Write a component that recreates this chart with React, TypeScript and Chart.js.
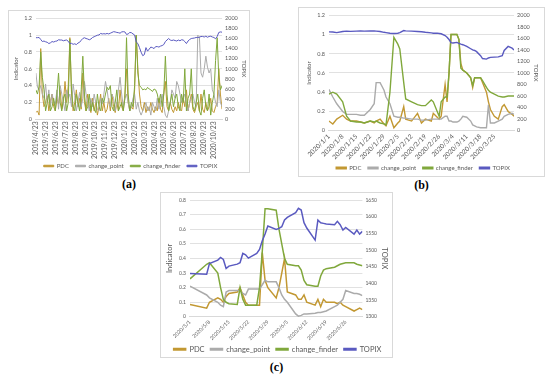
import React, { useEffect, useRef } from 'react';
import Chart from 'chart.js/auto';

const SERIES = ['PDC', 'change_point', 'change_finder', 'TOPIX'];
const COLORS = ['#C29832', '#ABABAB', '#80A83C', '#5A5AC0'];
const FONT = 'Lato, "Open Sans", sans-serif';

// ---------- Panel (a): days since 2019/4/23 ----------
const tickDaysA = [0, 30, 61, 91, 122, 153, 183, 214, 244, 275, 306, 335, 366, 396, 427, 457, 488, 519, 549];
const tickLabelsA = ['2019/4/23', '2019/5/23', '2019/6/23', '2019/7/23', '2019/8/23', '2019/9/23', '2019/10/23', '2019/11/23', '2019/12/23', '2020/1/23', '2020/2/23', '2020/3/23', '2020/4/23', '2020/5/23', '2020/6/23', '2020/7/23', '2020/8/23', '2020/9/23', '2020/10/23'];
const daysA = [0, 5, 10, 15, 20, 25, 30, 35, 40, 45, 50, 55, 60, 65, 70, 75, 80, 85, 90, 95, 100, 105, 110, 115, 120, 125, 130, 135, 140, 145, 150, 155, 160, 165, 170, 175, 180, 185, 190, 195, 200, 205, 210, 215, 220, 225, 230, 235, 240, 245, 250, 255, 260, 265, 270, 275, 280, 285, 290, 295, 300, 305, 310, 315, 320, 325, 330, 335, 340, 345, 350, 355, 360, 365, 370, 375, 380, 385, 390, 395, 400, 405, 410, 415, 420, 425, 430, 435, 440, 445, 450, 455, 460, 465, 470, 475, 480, 485, 490, 495, 500, 505, 510, 515, 520, 525, 530, 535, 540, 545, 550, 555, 560, 565, 570, 575];
const pdcA = [0.08, 0.1, 0.05, 0.84, 0.3, 0.15, 0.2, 0.28, 0.1, 0.22, 0.3, 0.15, 0.1, 0.25, 0.18, 0.35, 0.12, 0.2, 0.45, 0.2, 0.4, 0.97, 0.3, 0.1, 0.2, 0.35, 0.15, 0.25, 0.12, 0.55, 0.2, 0.1, 0.3, 0.15, 0.08, 0.25, 0.1, 0.2, 0.05, 0.15, 0.3, 0.1, 0.2, 0.08, 0.12, 0.25, 0.1, 0.3, 0.15, 0.08, 0.2, 0.1, 0.35, 0.15, 0.1, 0.3, 0.6, 0.2, 0.1, 0.15, 0.12, 0.35, 1.0, 0.6, 0.3, 0.15, 0.1, 0.2, 0.08, 0.15, 0.1, 0.2, 0.12, 0.08, 0.15, 0.1, 0.25, 0.12, 0.08, 0.3, 0.45, 0.15, 0.1, 0.2, 0.12, 0.08, 0.15, 0.1, 0.2, 0.12, 0.1, 0.25, 0.15, 0.35, 0.1, 0.2, 0.3, 0.12, 0.08, 0.15, 0.2, 0.1, 0.3, 0.12, 0.08, 0.2, 0.1, 0.15, 0.25, 0.1, 0.08, 0.15, 0.2, 0.6, 0.3, 0.12];
const changePointA = [0.55, 0.38, 0.35, 0.4, 0.3, 0.25, 0.42, 0.2, 0.35, 0.15, 0.3, 0.22, 0.18, 0.35, 0.12, 0.4, 0.3, 0.2, 0.1, 0.35, 0.25, 0.3, 0.15, 0.42, 0.28, 0.1, 0.2, 0.32, 0.15, 0.25, 0.45, 0.3, 0.2, 0.1, 0.25, 0.15, 0.3, 0.2, 0.12, 0.1, 0.25, 0.18, 0.3, 0.45, 0.35, 0.2, 0.15, 0.3, 0.25, 0.1, 0.2, 0.35, 0.5, 0.3, 0.15, 0.25, 0.3, 0.2, 0.1, 0.15, 0.25, 0.3, 0.12, 0.2, 0.1, 0.05, 0.1, 0.15, 0.2, 0.1, 0.15, 0.05, 0.2, 0.15, 0.1, 0.25, 0.12, 0.2, 0.3, 0.15, 0.05, 0.02, 0.1, 0.2, 0.35, 0.3, 0.25, 0.45, 0.4, 0.3, 0.2, 0.25, 0.3, 0.15, 0.1, 0.2, 0.25, 0.3, 0.2, 0.15, 1.0, 0.98, 0.55, 0.5, 0.6, 0.75, 0.62, 0.55, 0.6, 0.35, 0.3, 0.2, 0.15, 0.35, 0.2, 0.15];
const changeFinderA = [0.35, 0.3, 0.4, 0.8, 0.5, 0.35, 0.1, 0.2, 0.3, 0.1, 0.15, 0.25, 0.1, 0.3, 0.55, 0.2, 0.1, 0.25, 0.3, 0.1, 0.2, 0.95, 0.35, 0.15, 0.1, 0.3, 0.2, 0.1, 0.35, 0.75, 0.3, 0.1, 0.15, 0.3, 0.1, 0.2, 0.12, 0.08, 0.3, 0.15, 0.1, 0.25, 0.2, 0.3, 0.38, 0.35, 0.4, 0.15, 0.1, 0.2, 0.35, 0.1, 0.15, 0.2, 0.1, 0.25, 0.97, 0.3, 0.1, 0.2, 0.15, 0.4, 1.0, 0.55, 0.4, 0.38, 0.35, 0.36, 0.35, 0.38, 0.36, 0.35, 0.33, 0.36, 0.35, 0.3, 0.2, 0.3, 0.15, 0.3, 0.75, 0.3, 0.1, 0.2, 0.3, 0.15, 0.25, 0.3, 0.15, 0.1, 0.3, 0.2, 0.6, 0.1, 0.25, 0.3, 0.6, 0.15, 0.1, 0.2, 0.3, 0.1, 0.05, 0.25, 0.35, 0.15, 0.1, 0.3, 0.05, 0.2, 0.3, 0.7, 0.97, 0.5, 0.35, 0.4];
const topixA = [1615, 1617, 1620, 1580, 1540, 1550, 1535, 1525, 1500, 1515, 1540, 1530, 1545, 1550, 1575, 1570, 1570, 1555, 1565, 1570, 1545, 1500, 1505, 1485, 1495, 1480, 1510, 1525, 1565, 1600, 1615, 1600, 1590, 1575, 1590, 1620, 1635, 1650, 1665, 1670, 1700, 1690, 1695, 1690, 1700, 1690, 1705, 1720, 1735, 1730, 1720, 1715, 1705, 1730, 1735, 1730, 1680, 1690, 1720, 1715, 1690, 1670, 1530, 1500, 1420, 1330, 1260, 1280, 1420, 1350, 1390, 1430, 1420, 1400, 1440, 1440, 1430, 1450, 1460, 1480, 1540, 1570, 1600, 1570, 1560, 1570, 1560, 1550, 1570, 1555, 1575, 1570, 1540, 1500, 1550, 1580, 1600, 1605, 1610, 1620, 1620, 1625, 1640, 1640, 1630, 1645, 1625, 1640, 1645, 1630, 1620, 1595, 1640, 1720, 1730, 1725];

// ---------- Panel (b): days since 2020/1/1 ----------
const tickDaysB = [0, 7, 14, 21, 28, 35, 42, 49, 56, 63, 70, 77, 84];
const tickLabelsB = ['2020/1/1', '2020/1/8', '2020/1/15', '2020/1/22', '2020/1/29', '2020/2/5', '2020/2/12', '2020/2/19', '2020/2/26', '2020/3/4', '2020/3/11', '2020/3/18', '2020/3/25'];
const daysB = [0, 2, 4, 7, 9, 11, 14, 16, 18, 21, 23, 24, 26, 28, 29, 31, 33, 35, 36, 38, 39, 42, 45, 47, 49, 52, 53, 55, 56, 57, 59, 60, 61, 62, 63, 65, 66, 67, 68, 70, 72, 73, 74, 75, 77, 78, 80, 81, 82, 84, 86, 88, 89, 91, 93, 94];
const pdcB = [0.1, 0.07, 0.12, 0.16, 0.12, 0.1, 0.1, 0.09, 0.08, 0.1, 0.08, 0.1, 0.12, 0.07, 0.05, 0.15, 0.03, 0.08, 0.1, 0.25, 0.12, 0.1, 0.18, 0.08, 0.12, 0.1, 0.18, 0.14, 0.12, 0.15, 0.48, 0.3, 0.6, 1.0, 1.0, 1.0, 0.95, 0.7, 0.63, 0.6, 0.55, 0.45, 0.55, 0.55, 0.55, 0.5, 0.4, 0.3, 0.22, 0.15, 0.12, 0.25, 0.27, 0.2, 0.17, 0.15];
const changePointB = [0.43, 0.35, 0.28, 0.2, 0.17, 0.17, 0.17, 0.16, 0.16, 0.22, 0.28, 0.5, 0.5, 0.42, 0.35, 0.28, 0.15, 0.14, 0.14, 0.13, 0.13, 0.12, 0.12, 0.11, 0.11, 0.12, 0.12, 0.12, 0.12, 0.12, 0.15, 0.15, 0.1, 0.1, 0.09, 0.09, 0.1, 0.12, 0.15, 0.14, 0.1, 0.06, 0.05, 0.04, 0.03, 0.03, 0.03, 0.27, 0.08, 0.08, 0.1, 0.12, 0.15, 0.17, 0.18, 0.17];
const changeFinderB = [0.38, 0.4, 0.38, 0.3, 0.15, 0.1, 0.09, 0.09, 0.08, 0.1, 0.09, 0.1, 0.08, 0.07, 0.06, 0.4, 0.97, 0.9, 0.85, 0.5, 0.33, 0.3, 0.27, 0.26, 0.26, 0.32, 0.3, 0.2, 0.15, 0.3, 0.35, 0.35, 0.6, 1.0, 1.0, 1.0, 0.95, 0.65, 0.63, 0.6, 0.55, 0.47, 0.55, 0.55, 0.55, 0.52, 0.45, 0.42, 0.4, 0.38, 0.36, 0.35, 0.35, 0.36, 0.36, 0.36];
const topixB = [1713, 1710, 1700, 1720, 1725, 1722, 1725, 1728, 1725, 1730, 1728, 1725, 1720, 1705, 1700, 1690, 1685, 1690, 1700, 1735, 1730, 1725, 1720, 1715, 1705, 1695, 1690, 1690, 1685, 1680, 1650, 1620, 1580, 1525, 1520, 1530, 1515, 1500, 1490, 1460, 1420, 1400, 1390, 1370, 1300, 1250, 1240, 1260, 1270, 1275, 1280, 1300, 1390, 1460, 1430, 1400];

// ---------- Panel (c): days since 2020/5/1 ----------
const tickDaysC = [0, 7, 14, 21, 28, 35, 42, 49, 56];
const tickLabelsC = ['2020/5/1', '2020/5/8', '2020/5/15', '2020/5/22', '2020/5/29', '2020/6/5', '2020/6/12', '2020/6/19', '2020/6/26'];
const daysC = [0, 6, 7, 10, 11, 12, 13, 14, 17, 18, 19, 20, 21, 24, 25, 26, 27, 28, 31, 32, 33, 34, 35, 38, 39, 40, 41, 42, 45, 46, 47, 48, 49, 52, 53, 54, 55, 56, 59, 60, 61, 62];
const pdcC = [0.085, 0.06, 0.1, 0.13, 0.12, 0.1, 0.14, 0.16, 0.17, 0.2, 0.15, 0.1, 0.08, 0.08, 0.08, 0.44, 0.25, 0.2, 0.13, 0.2, 0.3, 0.4, 0.17, 0.15, 0.12, 0.12, 0.15, 0.1, 0.08, 0.12, 0.07, 0.12, 0.1, 0.1, 0.09, 0.1, 0.08, 0.07, 0.04, 0.05, 0.06, 0.05];
const changePointC = [0.21, 0.15, 0.13, 0.1, 0.08, 0.07, 0.17, 0.18, 0.18, 0.18, 0.16, 0.15, 0.19, 0.19, 0.19, 0.22, 0.25, 0.24, 0.24, 0.2, 0.15, 0.12, 0.1, 0.02, 0.005, 0.01, 0.02, 0.02, 0.025, 0.03, 0.03, 0.035, 0.04, 0.07, 0.08, 0.1, 0.12, 0.18, 0.16, 0.16, 0.155, 0.145];
const changeFinderC = [0.26, 0.36, 0.37, 0.3, 0.2, 0.12, 0.1, 0.09, 0.085, 0.2, 0.12, 0.08, 0.08, 0.08, 0.2, 0.45, 0.74, 0.74, 0.73, 0.6, 0.5, 0.4, 0.36, 0.35, 0.35, 0.32, 0.25, 0.22, 0.21, 0.21, 0.28, 0.32, 0.33, 0.34, 0.35, 0.36, 0.365, 0.37, 0.37, 0.36, 0.355, 0.35];
const topixC = [1430, 1428, 1460, 1470, 1478, 1472, 1445, 1452, 1458, 1462, 1490, 1486, 1476, 1490, 1502, 1528, 1548, 1572, 1562, 1565, 1570, 1590, 1598, 1612, 1625, 1620, 1582, 1566, 1530, 1590, 1582, 1580, 1578, 1576, 1586, 1576, 1560, 1568, 1548, 1560, 1548, 1556];

type Spec = {
  left: number; top: number; width: number; height: number;
  days: number[]; series: number[][];
  xMax: number; xTicks: number[]; xLabels: string[]; rotation: number;
  yMax: number; yStep: number; y1Min: number; y1Max: number; y1Step: number;
  tickFont: number; xTickFont: number; titleFont: number; legendFont: number; lineWidth: number; legendBox: number; legendGap: string;
  padding: { left: number; right: number; top: number; bottom: number };
  caption: string; captionTop: number;
};

const TXT = '#595959';
const GRID = '#D9D9D9';

function buildConfig(s: Spec): any {
  const datasets = s.series.map((vals, k) => ({
    label: SERIES[k],
    data: vals.map((v, i) => ({ x: s.days[i], y: v })),
    borderColor: COLORS[k],
    backgroundColor: COLORS[k],
    borderWidth: s.lineWidth,
    pointRadius: 0,
    tension: 0,
    yAxisID: k === 3 ? 'y1' : 'y',
    order: 4 - k,
  }));
  const tf = { family: FONT, size: s.tickFont };
  const xf = { family: FONT, size: s.xTickFont };
  const ttl = { family: FONT, size: s.titleFont };
  const defaultLabels = (Chart as any).defaults.plugins.legend.labels.generateLabels;
  return {
    type: 'line',
    data: { datasets },
    options: {
      animation: false,
      responsive: false,
      devicePixelRatio: 1,
      layout: { padding: s.padding },
      plugins: {
        legend: {
          position: 'bottom',
          labels: {
            boxWidth: s.legendBox,
            boxHeight: 1.5,
            padding: 2,
            color: TXT,
            font: { family: FONT, size: s.legendFont },
            sort: (a: any, b: any) => a.datasetIndex - b.datasetIndex,
            generateLabels: (chart: any) =>
              defaultLabels(chart).map((it: any) => ({
                ...it,
                text: it.datasetIndex < 3 ? it.text + s.legendGap : it.text,
              })),
          },
        },
        tooltip: { enabled: false },
      },
      scales: {
        x: {
          type: 'linear',
          min: 0,
          max: s.xMax,
          afterBuildTicks: (axis: any) => {
            axis.ticks = s.xTicks.map((v) => ({ value: v }));
          },
          ticks: {
            autoSkip: false,
            minRotation: s.rotation,
            maxRotation: s.rotation,
            font: xf,
            color: TXT,
            padding: 2,
            callback: (v: number) => {
              const i = s.xTicks.indexOf(v);
              return i >= 0 ? s.xLabels[i] : '';
            },
          },
          grid: { display: false, drawTicks: false },
          border: { display: true, color: GRID, width: 1 },
        },
        y: {
          position: 'left',
          min: 0,
          max: s.yMax,
          ticks: {
            stepSize: s.yStep,
            font: tf,
            color: TXT,
            padding: 4,
            callback: (v: number) => String(Math.round(v * 10) / 10),
          },
          grid: { color: GRID, lineWidth: 0.8, drawTicks: false },
          border: { display: false },
          title: { display: true, text: 'Indicator', font: ttl, color: TXT, padding: { top: 0, bottom: 1 } },
        },
        y1: {
          position: 'right',
          min: s.y1Min,
          max: s.y1Max,
          ticks: {
            stepSize: s.y1Step,
            font: tf,
            color: TXT,
            padding: 3,
            callback: (v: number) => String(Math.round(v)),
          },
          grid: { display: false, drawOnChartArea: false, drawTicks: false },
          border: { display: false },
          title: { display: true, text: 'TOPIX', font: ttl, color: TXT, padding: { top: 1, bottom: 0 } },
        },
      },
    },
  };
}

const specA: Spec = {
  left: 8, top: 10, width: 242, height: 163,
  days: daysA, series: [pdcA, changePointA, changeFinderA, topixA],
  xMax: 575, xTicks: tickDaysA, xLabels: tickLabelsA, rotation: 90,
  yMax: 1.2, yStep: 0.2, y1Min: 0, y1Max: 2000, y1Step: 200,
  tickFont: 5.5, xTickFont: 6.8, titleFont: 6, legendFont: 6, lineWidth: 1, legendBox: 10, legendGap: '   ',
  padding: { left: 3, right: 0, top: 4, bottom: -7 },
  caption: '(a)', captionTop: 177,
};

const specB: Spec = {
  left: 298, top: 7, width: 247, height: 170,
  days: daysB, series: [pdcB, changePointB, changeFinderB, topixB],
  xMax: 94, xTicks: tickDaysB, xLabels: tickLabelsB, rotation: 45,
  yMax: 1.2, yStep: 0.2, y1Min: 0, y1Max: 2000, y1Step: 200,
  tickFont: 5.5, xTickFont: 6.5, titleFont: 6, legendFont: 6, lineWidth: 1.4, legendBox: 10, legendGap: '   ',
  padding: { left: 6, right: 3, top: 4, bottom: -5 },
  caption: '(b)', captionTop: 178,
};

const specC: Spec = {
  left: 160, top: 192, width: 233, height: 166,
  days: daysC, series: [pdcC, changePointC, changeFinderC, topixC],
  xMax: 62, xTicks: tickDaysC, xLabels: tickLabelsC, rotation: 45,
  yMax: 0.8, yStep: 0.1, y1Min: 1300, y1Max: 1650, y1Step: 50,
  tickFont: 5, xTickFont: 5.2, titleFont: 7.5, legendFont: 7.5, lineWidth: 1.5, legendBox: 12, legendGap: '  ',
  padding: { left: 4, right: 2, top: 4, bottom: -6 },
  caption: '(c)', captionTop: 360,
};

function Panel({ spec }: { spec: Spec }) {
  const ref = useRef<HTMLCanvasElement>(null);
  useEffect(() => {
    const chart = new Chart(ref.current as HTMLCanvasElement, buildConfig(spec));
    return () => chart.destroy();
  }, [spec]);
  const w = spec.width - 2;
  const h = spec.height - 2;
  return (
    <>
      <div
        style={{
          position: 'absolute', left: spec.left, top: spec.top, width: spec.width, height: spec.height,
          border: '1px solid #D9D9D9', boxSizing: 'border-box', background: '#fff',
        }}
      >
        <canvas ref={ref} width={w} height={h} style={{ display: 'block', width: w, height: h }} />
      </div>
      <div
        style={{
          position: 'absolute', left: spec.left, width: spec.width, top: spec.captionTop,
          textAlign: 'center', fontFamily: '"Liberation Serif", serif', fontWeight: 'bold', fontSize: 12, lineHeight: '14px', color: '#000',
        }}
      >
        {spec.caption}
      </div>
    </>
  );
}

export default function App() {
  return (
    <div style={{ position: 'fixed', left: 0, top: 0, width: 550, height: 378, background: '#fff', overflow: 'hidden' }}>
      <Panel spec={specA} />
      <Panel spec={specB} />
      <Panel spec={specC} />
    </div>
  );
}
